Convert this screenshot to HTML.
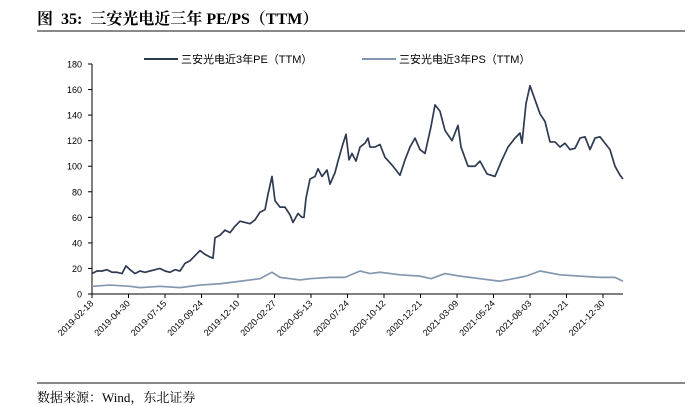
<!DOCTYPE html>
<html><head><meta charset="utf-8"><style>
body{margin:0;width:691px;height:404px;background:#fff;overflow:hidden;font-family:"Liberation Sans","Noto Sans CJK SC",sans-serif}
.t{position:absolute;left:37px;top:6px;font:bold 16px "Liberation Serif","Noto Serif CJK SC",serif;color:#000;white-space:pre}
.f{position:absolute;left:37px;top:387px;font:13px "Liberation Serif","Noto Serif CJK SC",serif;color:#000}
</style></head><body>
<div class="t">图  35:  三安光电近三年 PE/PS（TTM）</div>
<div style="position:absolute;left:37px;top:30px;width:648px;height:2px;background:#888"></div>
<div style="position:absolute;left:37px;top:382px;width:648px;height:2px;background:#888"></div>
<div class="f">数据来源：Wind，东北证券</div>
<svg id="c" width="691" height="404" style="position:absolute;left:0;top:0"></svg>
<script>
const yTicks=[0,20,40,60,80,100,120,140,160,180];
const xLabels=["2019-02-18","2019-04-30","2019-07-15","2019-09-24","2019-12-10","2020-02-27","2020-05-13","2020-07-24","2020-10-12","2020-12-21","2021-03-09","2021-05-24","2021-08-03","2021-10-21","2021-12-30"];
const peT=[0,5,10,15,20,25,30,34,38,43,48,53,58,63,68,73,78,83,88,93,98,103,108,113,118,121,123,128,133,138,143,148,153,158,163,168,173,176,180,183,188,193,198,201,206,210,212,214,218,223,226,230,235,238,243,246,250,254,257,260,264,268,273,276,278,283,288,293,301,308,313,318,323,328,333,339,343,348,353,360,366,369,376,383,388,395,403,410,416,423,428,430,434,438,443,448,453,458,463,468,473,478,483,488,493,498,503,508,513,518,523,528,531];
const peV=[16,18,18,19,17,17,16,22,19,16,18,17,18,19,20,18,17,19,18,24,26,30,34,31,29,28,44,46,50,48,53,57,56,55,58,64,66,78,92,73,68,68,62,56,63,60,60,75,90,92,98,92,97,86,95,104,115,125,105,110,104,115,118,122,115,115,117,107,100,93,105,115,122,113,110,131,148,143,128,120,132,115,100,100,104,94,92,105,115,122,126,118,149,163,152,141,135,119,119,115,118,113,114,122,123,113,122,123,118,113,100,93,90,91];
const psT=[0,18,38,48,68,88,108,128,148,168,180,188,208,218,238,253,268,278,288,308,328,339,353,368,388,408,428,434,448,468,488,508,523,531];
const psV=[6,7,6,5,6,5,7,8,10,12,17,13,11,12,13,13,18,16,17,15,14,12,16,14,12,10,13,14,18,15,14,13,13,10];
const svg=document.getElementById('c');const NS='http://www.w3.org/2000/svg';
const x0=92,x1=623,y0=294,y1=64;
const sx=t=>x0+t*(x1-x0)/531, sy=v=>y0-v*(y0-y1)/180;
function mk(tag,a,p){const e=document.createElementNS(NS,tag);for(const k in a)e.setAttribute(k,a[k]);(p||svg).appendChild(e);return e;}
let ax=mk('line',{x1:x0,y1:y1,x2:x0,y2:y0,stroke:'#000','stroke-width':1});


let bx=mk('line',{x1:x0,y1:y0,x2:x1,y2:y0,stroke:'#000','stroke-width':1});


yTicks.forEach(v=>{mk('line',{x1:x0-4,y1:sy(v),x2:x0,y2:sy(v),stroke:'#000'});
 const t=mk('text',{x:x0-10,y:sy(v)+3.5,'text-anchor':'end','font-size':9,fill:'#000'});t.textContent=v;
 
 });
xLabels.forEach((l,i)=>{const x=x0+i*36.5;mk('line',{x1:x,y1:y0,x2:x,y2:y0+4,stroke:'#000'});
 const t=mk('text',{x:x+2,y:y0+10,'text-anchor':'end','font-size':9,fill:'#000',transform:`rotate(-45 ${x+2} ${y0+10})`});t.textContent=l;
 
 });
function line(T,V,c,n){const p=mk('polyline',{points:T.map((t,i)=>sx(t)+','+sy(V[i])).join(' '),fill:'none',stroke:c,'stroke-width':1.7,'stroke-linejoin':'round'});
 
 }
line(psT,psV,'#8497b0','ps-line');
line(peT,peV,'#2e3a52','pe-line');
function leg(x,c,txt,n){const g=mk('g',{});
 
 mk('line',{x1:x,y1:59,x2:x+34,y2:59,stroke:c,'stroke-width':2},g);
 const t=mk('text',{x:x+37,y:63,'font-size':11,fill:'#000'},g);t.textContent=txt;}
leg(144,'#2e3a52','三安光电近3年PE（TTM）','legend-pe');
leg(362,'#8497b0','三安光电近3年PS（TTM）','legend-ps');
</script>
</body></html>
